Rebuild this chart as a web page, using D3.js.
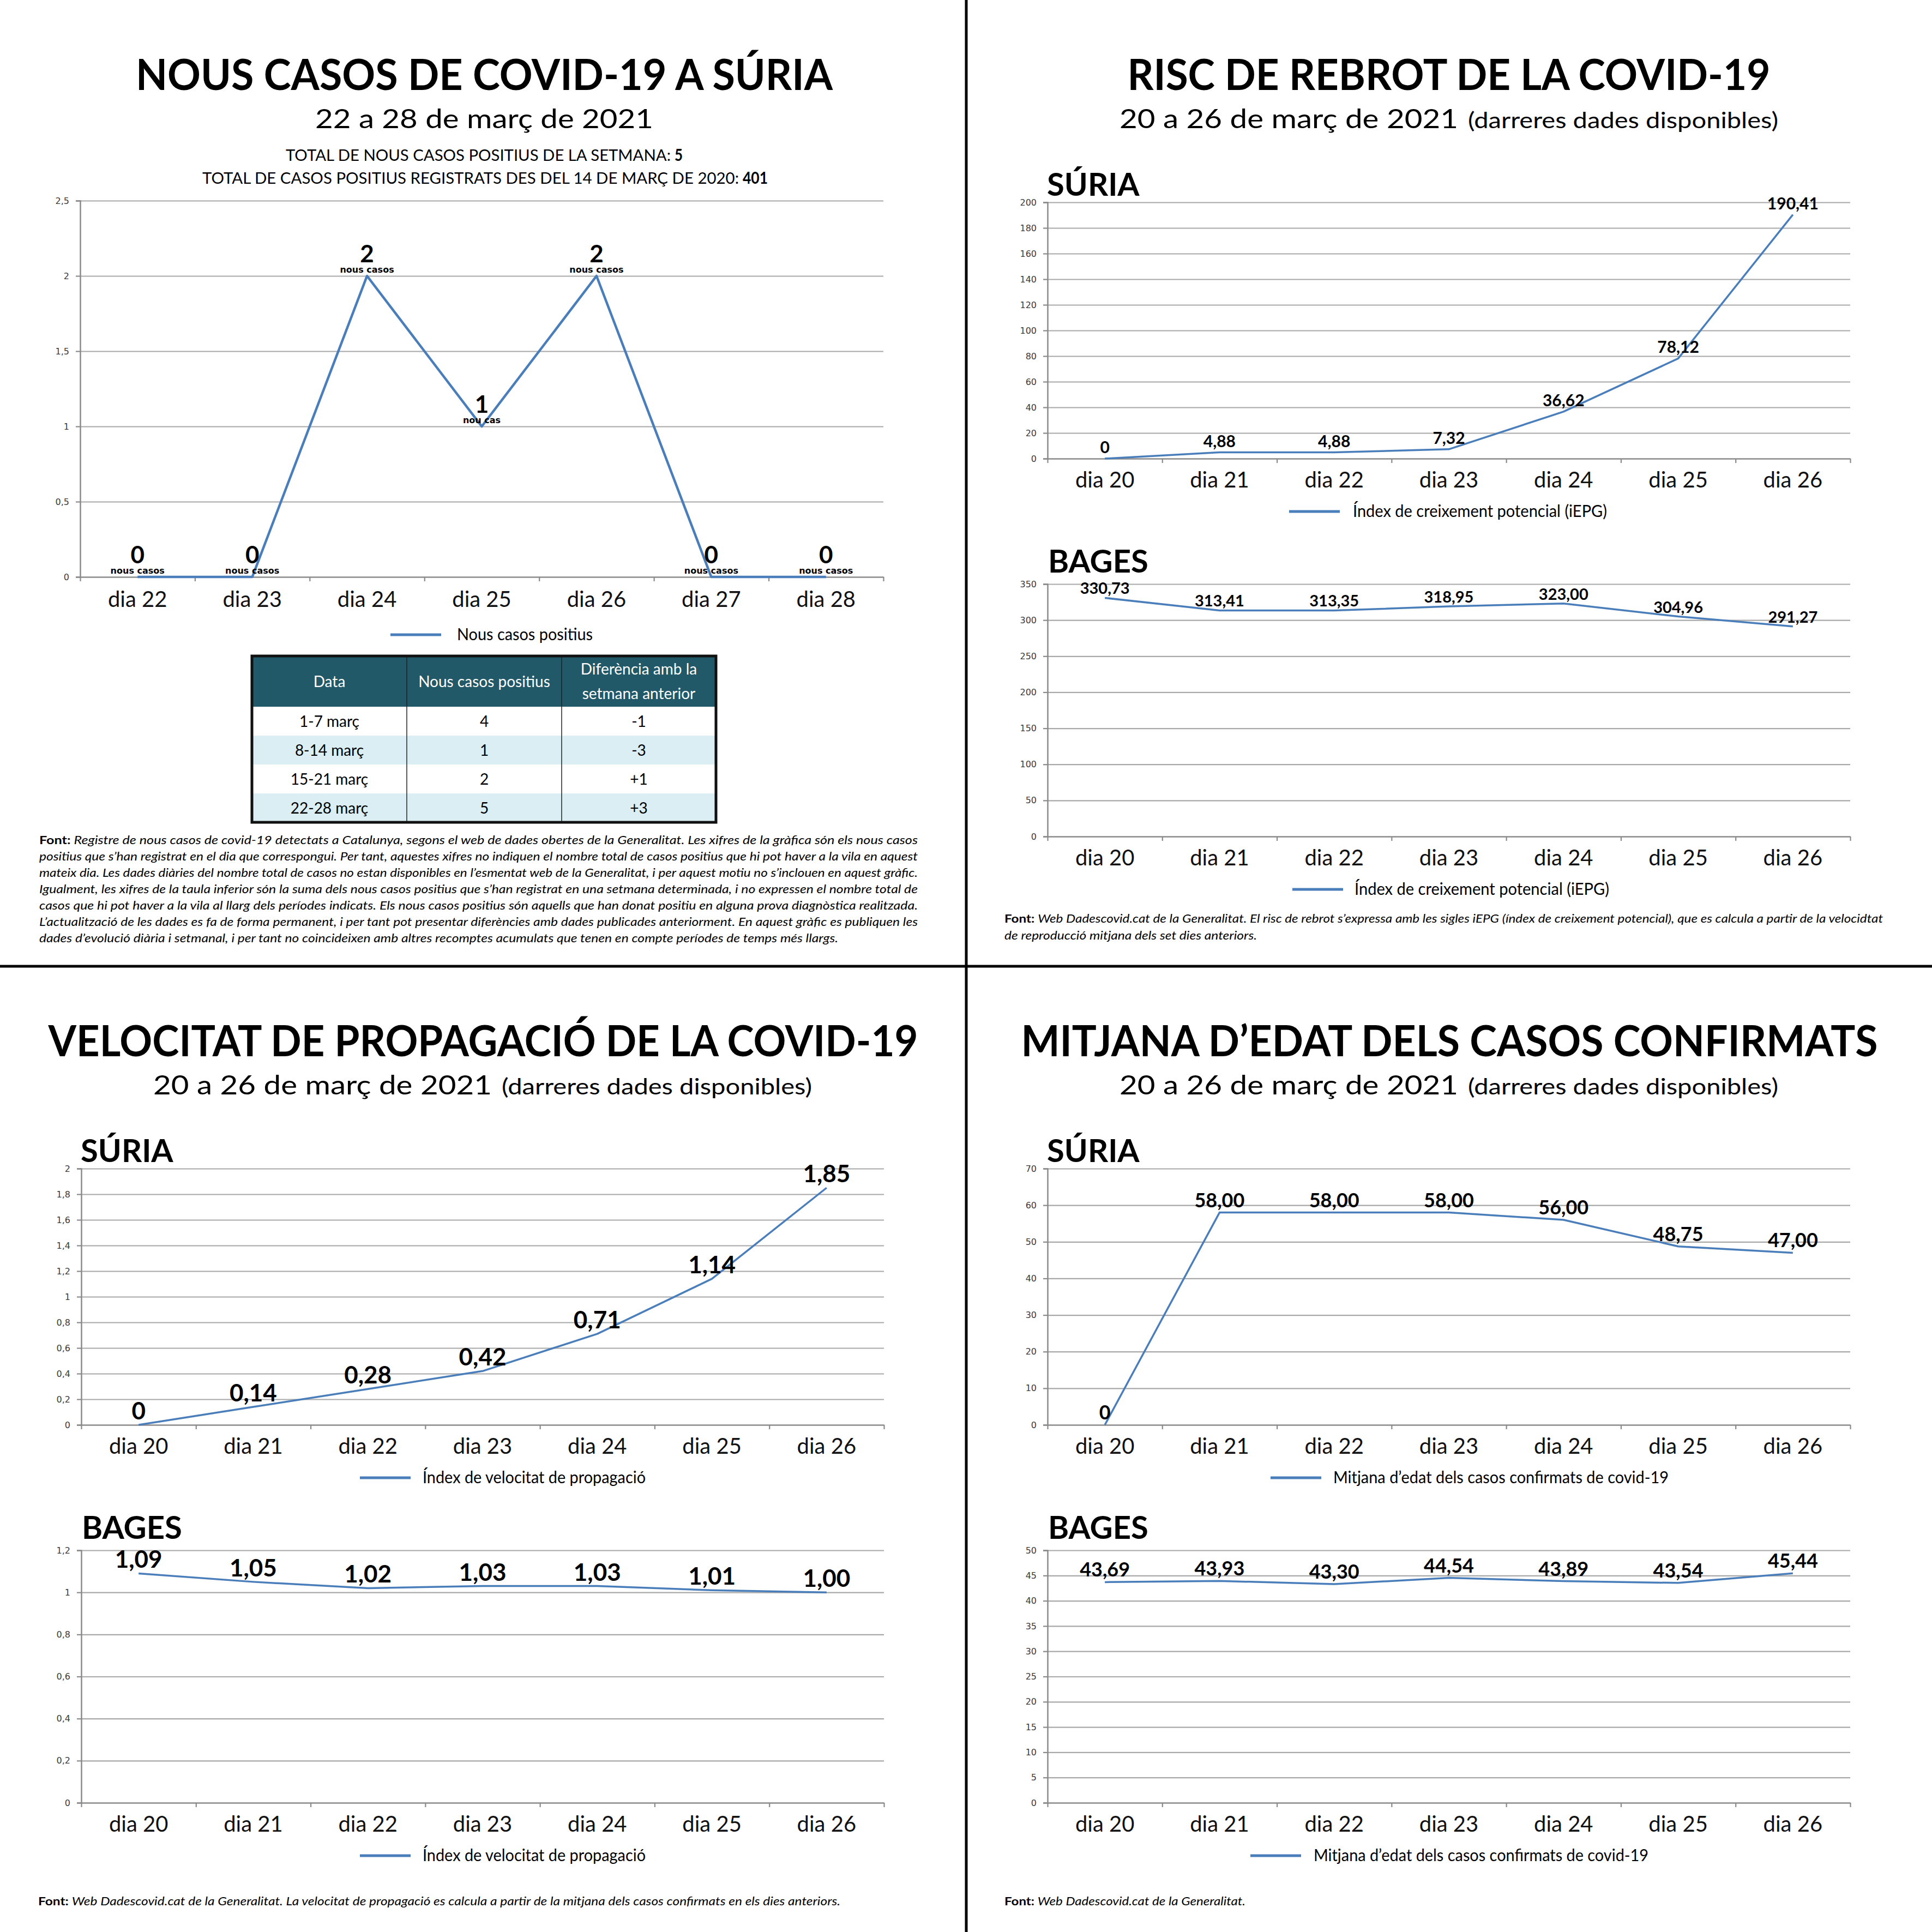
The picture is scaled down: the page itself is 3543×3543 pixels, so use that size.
<!DOCTYPE html>
<html><head><meta charset="utf-8">
<script src="https://cdn.jsdelivr.net/npm/d3@7"></script>
<style>body{margin:0;background:#fff}svg{display:block}</style>
</head><body>
<script>
// ---------------- DATA ----------------
const daysWeek = ["dia 22","dia 23","dia 24","dia 25","dia 26","dia 27","dia 28"];
const newCases = [0,0,2,1,2,0,0];
const newCasesTicks = [0,0.5,1,1.5,2,2.5];

const days20 = ["dia 20","dia 21","dia 22","dia 23","dia 24","dia 25","dia 26"];
const iepgSuria = [0,4.88,4.88,7.32,36.62,78.12,190.41];
const iepgSuriaTicks = [0,20,40,60,80,100,120,140,160,180,200];
const iepgBages = [330.73,313.41,313.35,318.95,323.00,304.96,291.27];
const iepgBagesTicks = [0,50,100,150,200,250,300,350];

const rtSuria = [0,0.14,0.28,0.42,0.71,1.14,1.85];
const rtSuriaTicks = [0,0.2,0.4,0.6,0.8,1,1.2,1.4,1.6,1.8,2];
const rtBages = [1.09,1.05,1.02,1.03,1.03,1.01,1.00];
const rtBagesTicks = [0,0.2,0.4,0.6,0.8,1,1.2];

const ageSuria = [0,58,58,58,56,48.75,47];
const ageSuriaTicks = [0,10,20,30,40,50,60,70];
const ageBages = [43.69,43.93,43.30,44.54,43.89,43.54,45.44];
const ageBagesTicks = [0,5,10,15,20,25,30,35,40,45,50];

const weekTotal = 5;
const grandTotal = 401;

const tableHeader = ["Data","Nous casos positius",["Diferència amb la","setmana anterior"]];
const tableDates = ["1-7 març","8-14 març","15-21 març","22-28 març"];
const tableCases = [4,1,2,5];
const tableDiff = ["-1","-3","+1","+3"];

const footTL = [
 "Registre de nous casos de covid-19 detectats a Catalunya, segons el web de dades obertes de la Generalitat. Les xifres de la gràfica són els nous casos",
 "positius que s’han registrat en el dia que correspongui. Per tant, aquestes xifres no indiquen el nombre total de casos positius que hi pot haver a la vila en aquest",
 "mateix dia. Les dades diàries del nombre total de casos no estan disponibles en l’esmentat web de la Generalitat, i per aquest motiu no s’inclouen en aquest gràfic.",
 "Igualment, les xifres de la taula inferior són la suma dels nous casos positius que s’han registrat en una setmana determinada, i no expressen el nombre total de",
 "casos que hi pot haver a la vila al llarg dels períodes indicats. Els nous casos positius són aquells que han donat positiu en alguna prova diagnòstica realitzada.",
 "L’actualització de les dades es fa de forma permanent, i per tant pot presentar diferències amb dades publicades anteriorment. En aquest gràfic es publiquen les",
 "dades d’evolució diària i setmanal, i per tant no coincideixen amb altres recomptes acumulats que tenen en compte períodes de temps més llargs."
];
const footTR = ["Web Dadescovid.cat de la Generalitat. El risc de rebrot s’expressa amb les sigles iEPG (índex de creixement potencial), que es calcula a partir de la velocidtat",
 "de reproducció mitjana dels set dies anteriors."];
const footBL = ["Web Dadescovid.cat de la Generalitat. La velocitat de propagació es calcula a partir de la mitjana dels casos confirmats en els dies anteriors."];
const footBR = ["Web Dadescovid.cat de la Generalitat."];

// ---------------- SETUP ----------------
const W = 3543, H = 3543;
const FONT = "Lato, 'Open Sans', sans-serif";
const TICKFONT = "'DejaVu Sans', Verdana, sans-serif";
const BLUE = "#4a7ebb";
const GRID = "#a8a8a8";
const AXIS = "#8a8a8a";

const svg = d3.select("body").append("svg").attr("width", W).attr("height", H);
svg.append("rect").attr("width", W).attr("height", H).attr("fill", "#fff");

const fmtTick = v => String(v).replace(".", ",");
const fmtVal = v => v === 0 ? "0" : v.toFixed(2).replace(".", ",");

function txt(g, x, y, parts, o) {
  const t = g.append("text").attr("x", x).attr("y", y)
    .attr("font-family", o.family || FONT).attr("font-size", o.size)
    .attr("font-weight", o.weight || "normal").attr("font-style", o.style || "normal")
    .attr("fill", o.fill || "#000").attr("text-anchor", o.anchor || "start")
    .style("white-space", "pre");
  if (typeof parts === "string") parts = [[parts, {}]];
  parts.forEach(([s, st]) => {
    const ts = t.append("tspan").text(s);
    if (st.weight) ts.attr("font-weight", st.weight);
    if (st.style) ts.attr("font-style", st.style);
    if (st.size) ts.attr("font-size", st.size);
  });
  if (o.fit && o.width) {
    const nat = t.node().getComputedTextLength();
    if (nat > o.width) t.attr("font-size", o.size * o.width / nat);
  }
  if (o.width) t.attr("textLength", o.width).attr("lengthAdjust", "spacingAndGlyphs");
  return t;
}

function lineChart(g, c) {
  const x = d3.scaleBand().domain(c.cats).range([c.x0, c.x1]);
  const y = d3.scaleLinear().domain([0, c.max]).range([c.yB, c.yT]);
  g.append("g").attr("transform", `translate(${c.x0},0)`)
    .call(d3.axisLeft(y).tickValues(c.ticks.filter(t => t > 0)).tickSize(-(c.x1 - c.x0)).tickFormat(""))
    .call(s => { s.select(".domain").remove(); s.selectAll("line").attr("stroke", GRID).attr("stroke-width", 2.2); });
  g.append("g").attr("transform", `translate(${c.x0},0)`)
    .call(d3.axisLeft(y).tickValues(c.ticks).tickSize(8).tickPadding(12).tickFormat(fmtTick))
    .call(s => {
      s.select(".domain").attr("stroke", AXIS).attr("stroke-width", 2.5);
      s.selectAll(".tick line").attr("stroke", AXIS).attr("stroke-width", 2.2);
      s.selectAll("text").attr("font-family", TICKFONT).attr("font-size", 16).attr("fill", "#3a3a3a");
    });
  const xb = d3.scaleLinear().domain([0, c.cats.length]).range([c.x0, c.x1]);
  g.append("g").attr("transform", `translate(0,${c.yB})`)
    .call(d3.axisBottom(xb).tickValues(d3.range(c.cats.length + 1)).tickSize(8).tickSizeOuter(0).tickFormat(""))
    .call(s => {
      s.select(".domain").attr("stroke", AXIS).attr("stroke-width", 2.5);
      s.selectAll(".tick line").attr("stroke", AXIS).attr("stroke-width", 2.2);
    });
  g.append("g").attr("transform", `translate(0,${c.yB})`)
    .call(d3.axisBottom(x).tickSize(0))
    .call(s => {
      s.select(".domain").remove();
      s.selectAll("text").attr("y", c.xLabelDy || 53).attr("dy", null)
        .attr("font-family", FONT).attr("font-size", 40).attr("fill", "#111");
    });
  const pts = c.cats.map((d, i) => ({ d, v: c.values[i] }));
  g.append("path").datum(pts).attr("fill", "none").attr("stroke", BLUE)
    .attr("stroke-width", c.lw || 3.5).attr("stroke-linejoin", "round")
    .attr("d", d3.line().x(p => x(p.d) + x.bandwidth() / 2).y(p => y(p.v)));
  if (c.twoLine) {
    g.append("g").selectAll("text").data(pts).join("text")
      .attr("x", p => x(p.d) + x.bandwidth() / 2).attr("y", p => y(p.v) - 25)
      .attr("text-anchor", "middle").attr("font-family", FONT).attr("font-weight", "bold")
      .attr("font-size", 44).text(p => String(p.v));
    g.append("g").selectAll("text").data(pts).join("text")
      .attr("x", p => x(p.d) + x.bandwidth() / 2).attr("y", p => y(p.v) - 6)
      .attr("text-anchor", "middle").attr("font-family", TICKFONT).attr("font-weight", "bold")
      .attr("font-size", 16).text(p => p.v === 1 ? "nou cas" : "nous casos");
  } else {
    g.append("g").selectAll("text").data(pts).join("text")
      .attr("x", p => x(p.d) + x.bandwidth() / 2).attr("y", p => y(p.v) - (c.labelDy || 10))
      .attr("text-anchor", "middle").attr("font-family", FONT).attr("font-weight", "bold")
      .attr("font-size", c.labelSize).text(p => fmtVal(p.v));
  }
  const ly = c.yB + (c.legendDy || 97);
  g.append("line").attr("x1", c.legendX).attr("x2", c.legendX + 93).attr("y1", ly).attr("y2", ly)
    .attr("stroke", BLUE).attr("stroke-width", 5);
  txt(g, c.legendTextX, ly + 10, c.legend, { size: 30, width: c.legendW });
}

// ---------------- DIVIDERS ----------------
svg.append("line").attr("x1", 1772).attr("x2", 1772).attr("y1", 0).attr("y2", H).attr("stroke", "#000").attr("stroke-width", 5);
svg.append("line").attr("x1", 0).attr("x2", W).attr("y1", 1772).attr("y2", 1772).attr("stroke", "#000").attr("stroke-width", 5);

// ---------------- TOP-LEFT ----------------
const tl = svg.append("g");
txt(tl, 888, 165, "NOUS CASOS DE COVID-19 A SÚRIA", { size: 78, weight: "bold", anchor: "middle", width: 1278 });
txt(tl, 888, 235, "22 a 28 de març de 2021", { size: 49, anchor: "middle", width: 620 });
txt(tl, 524, 295, "TOTAL DE NOUS CASOS POSITIUS DE LA SETMANA:", { size: 30, width: 706, fit: true });
txt(tl, 1237, 295, String(weekTotal), { size: 30, weight: "bold", width: 15 });
txt(tl, 371, 337, "TOTAL DE CASOS POSITIUS REGISTRATS DES DEL 14 DE MARÇ DE 2020:", { size: 30, width: 984, fit: true });
txt(tl, 1362, 337, String(grandTotal), { size: 30, weight: "bold", width: 46 });

lineChart(tl, {
  cats: daysWeek, values: newCases, max: 2.5, ticks: newCasesTicks,
  x0: 147, x1: 1620, yB: 1058, yT: 368, lw: 4.5, twoLine: true, xLabelDy: 55,
  legend: "Nous casos positius", legendX: 716, legendTextX: 838, legendW: 249, legendDy: 106
});

// table
const tx = [462, 746, 1030, 1313];
const tyH = 1203, tyB = 1296, rowH = 53;
const tbl = tl.append("g");
tbl.append("rect").attr("x", tx[0]).attr("y", tyH).attr("width", tx[3] - tx[0]).attr("height", tyB - tyH).attr("fill", "#215968");
tbl.selectAll("rect.row").data(tableDates).join("rect").attr("class", "row")
  .attr("x", tx[0]).attr("y", (d, i) => tyB + i * rowH).attr("width", tx[3] - tx[0]).attr("height", rowH)
  .attr("fill", (d, i) => i % 2 ? "#daeef3" : "#ffffff");
[tx[1], tx[2]].forEach(xx => tbl.append("line").attr("x1", xx).attr("x2", xx).attr("y1", tyH).attr("y2", tyB + 4 * rowH).attr("stroke", "#222").attr("stroke-width", 1.5));
tbl.append("rect").attr("x", tx[0]).attr("y", tyH).attr("width", tx[3] - tx[0]).attr("height", tyB + 4 * rowH - tyH)
  .attr("fill", "none").attr("stroke", "#111").attr("stroke-width", 5);
const colC = [0, 1, 2].map(i => (tx[i] + tx[i + 1]) / 2);
txt(tbl, colC[0], 1260, tableHeader[0], { size: 28, anchor: "middle", fill: "#fff" });
txt(tbl, colC[1], 1260, tableHeader[1], { size: 28, anchor: "middle", fill: "#fff" });
txt(tbl, colC[2], 1237, tableHeader[2][0], { size: 28, anchor: "middle", fill: "#fff" });
txt(tbl, colC[2], 1282, tableHeader[2][1], { size: 28, anchor: "middle", fill: "#fff" });
tableDates.forEach((d, i) => {
  const yy = tyB + i * rowH + rowH / 2 + 10;
  txt(tbl, colC[0], yy, d, { size: 28, anchor: "middle" });
  txt(tbl, colC[1], yy, String(tableCases[i]), { size: 28, anchor: "middle" });
  txt(tbl, colC[2], yy, tableDiff[i], { size: 28, anchor: "middle" });
});

footTL.forEach((line, i) => {
  const parts = i === 0 ? [["Font: ", { weight: "bold", style: "normal" }], [line, {}]] : [[line, {}]];
  txt(tl, 72, 1548 + i * 30, parts, { size: 21, style: "italic", width: i === footTL.length - 1 ? 1465 : 1611 });
});

// ---------------- MULTI PANELS ----------------
function panel(ox, oy, p) {
  const g = svg.append("g").attr("transform", `translate(${ox},${oy})`);
  txt(g, p.titleX, 165, p.title, { size: 78, weight: "bold", anchor: "middle", width: p.titleW });
  txt(g, 281, 235, "20 a 26 de març de 2021", { size: 49, width: 621 });
  txt(g, 920, 235, "(darreres dades disponibles)", { size: 40, width: 569 });
  txt(g, 148, 359, "SÚRIA", { size: 58, weight: "bold" });
  txt(g, 150, 1050, "BAGES", { size: 58, weight: "bold" });
  lineChart(g, Object.assign({ cats: days20, x0: 149, x1: 1621, yB: 841, yT: 371 }, p.a));
  lineChart(g, Object.assign({ cats: days20, x0: 149, x1: 1621, yB: 1534, yT: 1071 }, p.b));
  p.foot.forEach((line, i) => {
    const parts = i === 0 ? [["Font: ", { weight: "bold", style: "normal" }], [line, {}]] : [[line, {}]];
    txt(g, 70, p.footY + i * 31, parts, { size: 21, style: "italic", width: p.footW[i] });
  });
}

panel(1772, 0, {
  title: "RISC DE REBROT DE LA COVID-19", titleX: 885, titleW: 1179,
  a: { values: iepgSuria, max: 200, ticks: iepgSuriaTicks, labelSize: 30, legend: "Índex de creixement potencial (iEPG)", legendX: 592, legendTextX: 709, legendW: 466 },
  b: { values: iepgBages, max: 350, ticks: iepgBagesTicks, labelSize: 29, labelDy: 7, legend: "Índex de creixement potencial (iEPG)", legendX: 598, legendTextX: 712, legendW: 467 },
  foot: footTR, footY: 1692, footW: [1611, 463]
});

panel(0, 1772, {
  title: "VELOCITAT DE PROPAGACIÓ DE LA COVID-19", titleX: 886, titleW: 1595,
  a: { values: rtSuria, max: 2, ticks: rtSuriaTicks, labelSize: 44, legend: "Índex de velocitat de propagació", legendX: 660, legendTextX: 775, legendW: 409 },
  b: { values: rtBages, max: 1.2, ticks: rtBagesTicks, labelSize: 44, legend: "Índex de velocitat de propagació", legendX: 660, legendTextX: 775, legendW: 409 },
  foot: footBL, footY: 1722, footW: [1471]
});

panel(1772, 1772, {
  title: "MITJANA D’EDAT DELS CASOS CONFIRMATS", titleX: 886, titleW: 1571,
  a: { values: ageSuria, max: 70, ticks: ageSuriaTicks, labelSize: 36, legend: "Mitjana d’edat dels casos confirmats de covid-19", legendX: 558, legendTextX: 673, legendW: 615 },
  b: { values: ageBages, max: 50, ticks: ageBagesTicks, labelSize: 36, legend: "Mitjana d’edat dels casos confirmats de covid-19", legendX: 521, legendTextX: 637, legendW: 614 },
  foot: footBR, footY: 1722, footW: [442]
});
</script>
</body></html>
